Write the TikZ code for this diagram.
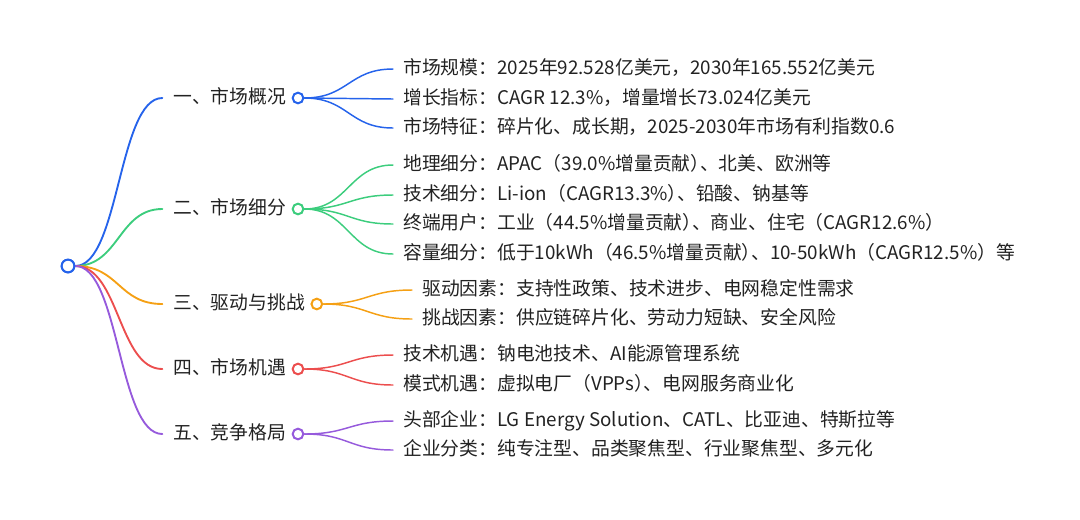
\documentclass[tikz,border=0pt]{standalone}
\usepackage{fontspec}
\setmainfont{Noto Sans CJK SC}
\usepackage{xcolor}
\usepackage{tikz}
\usetikzlibrary{positioning}
\definecolor{RamaAzul}{RGB}{37,99,235}
\definecolor{RamaVerde}{RGB}{60,205,125}
\definecolor{RamaNaranja}{RGB}{245,160,20}
\definecolor{RamaRoja}{RGB}{236,78,78}
\definecolor{RamaMorada}{RGB}{150,90,220}
\definecolor{Tinta}{RGB}{34,34,34}
\newcommand{\parcierre}{）\kern-0.5em}

\begin{document}
\begin{tikzpicture}[x=0.75pt, y=-0.75pt, line cap=round,
    texto/.style={inner sep=0pt, text=Tinta, anchor=west,
        font=\fontsize{14.1pt}{17pt}\selectfont,
        text height=0.88em, text depth=0.12em},
    punto/.style={circle, draw=#1, fill=white, line width=1.5pt,
        inner sep=0pt, minimum size=8pt},
    rama/.style={draw=#1, line width=1.4pt},
    subrama/.style={draw=#1, line width=1.1pt}]
    \useasboundingbox (0,0) rectangle (1080,519);

    % raiz
    \node[punto=RamaAzul, minimum size=9.5pt] (raiz) at (68,266) {};

    % ramas principales
    \node[texto] (b1) at (173,98)  {一、市场概况};
    \node[texto] (b2) at (173,209) {二、市场细分};
    \node[texto] (b3) at (173,304) {三、驱动与挑战};
    \node[texto] (b4) at (173,369) {四、市场机遇};
    \node[texto] (b5) at (173,434) {五、竞争格局};

    \node[punto=RamaAzul,    right=4pt of b1] (c1) {};
    \node[punto=RamaVerde,   right=4pt of b2] (c2) {};
    \node[punto=RamaNaranja, right=4pt of b3] (c3) {};
    \node[punto=RamaRoja,    right=4pt of b4] (c4) {};
    \node[punto=RamaMorada,  right=4pt of b5] (c5) {};

    \draw[rama=RamaAzul] (raiz.east) .. controls +(44,0) and +(-44,0) .. ([xshift=-8pt]b1.west);
    \draw[rama=RamaVerde] (raiz.east) .. controls +(44,0) and +(-44,0) .. ([xshift=-8pt]b2.west);
    \draw[rama=RamaNaranja] (raiz.east) .. controls +(44,0) and +(-44,0) .. ([xshift=-8pt]b3.west);
    \draw[rama=RamaRoja] (raiz.east) .. controls +(44,0) and +(-44,0) .. ([xshift=-8pt]b4.west);
    \draw[rama=RamaMorada] (raiz.east) .. controls +(44,0) and +(-44,0) .. ([xshift=-8pt]b5.west);
    \node[punto=RamaAzul, minimum size=9.5pt] at (raiz) {};

    % hojas
    \node[texto] (h11) at (403,69)  {市场规模：2025年92.528亿美元，2030年165.552亿美元};
    \node[texto] (h12) at (403,99)  {增长指标：CAGR 12.3\%，增量增长73.024亿美元};
    \node[texto] (h13) at (403,128) {市场特征：碎片化、成长期，2025-2030年市场有利指数0.6};

    \node[texto] (h21) at (403,165) {地理细分：APAC（39.0\%增量贡献\parcierre 、北美、欧洲等};
    \node[texto] (h22) at (403,195) {技术细分：Li-ion（CAGR13.3\%\parcierre 、铅酸、钠基等};
    \node[texto] (h23) at (403,224) {终端用户：工业（44.5\%增量贡献\parcierre 、商业、住宅（CAGR12.6\%）};
    \node[texto] (h24) at (403,254) {容量细分：低于10kWh（46.5\%增量贡献\parcierre 、10-50kWh（CAGR12.5\%）等};

    \node[texto] (h31) at (422,290) {驱动因素：支持性政策、技术进步、电网稳定性需求};
    \node[texto] (h32) at (422,319) {挑战因素：供应链碎片化、劳动力短缺、安全风险};

    \node[texto] (h41) at (403,355) {技术机遇：钠电池技术、AI能源管理系统};
    \node[texto] (h42) at (403,385) {模式机遇：虚拟电厂（VPPs\parcierre 、电网服务商业化};

    \node[texto] (h51) at (403,421) {头部企业：LG Energy Solution、CATL、比亚迪、特斯拉等};
    \node[texto] (h52) at (403,450) {企业分类：纯专注型、品类聚焦型、行业聚焦型、多元化};

    \foreach \c/\h/\col in {c1/h11/RamaAzul, c1/h12/RamaAzul, c1/h13/RamaAzul,
        c2/h21/RamaVerde, c2/h22/RamaVerde, c2/h23/RamaVerde, c2/h24/RamaVerde,
        c3/h31/RamaNaranja, c3/h32/RamaNaranja,
        c4/h41/RamaRoja, c4/h42/RamaRoja,
        c5/h51/RamaMorada, c5/h52/RamaMorada}
        \draw[subrama=\col] (\c.east) .. controls +(44,0) and +(-44,0) .. ([xshift=-7.5pt]\h.west);
\end{tikzpicture}
\end{document}
